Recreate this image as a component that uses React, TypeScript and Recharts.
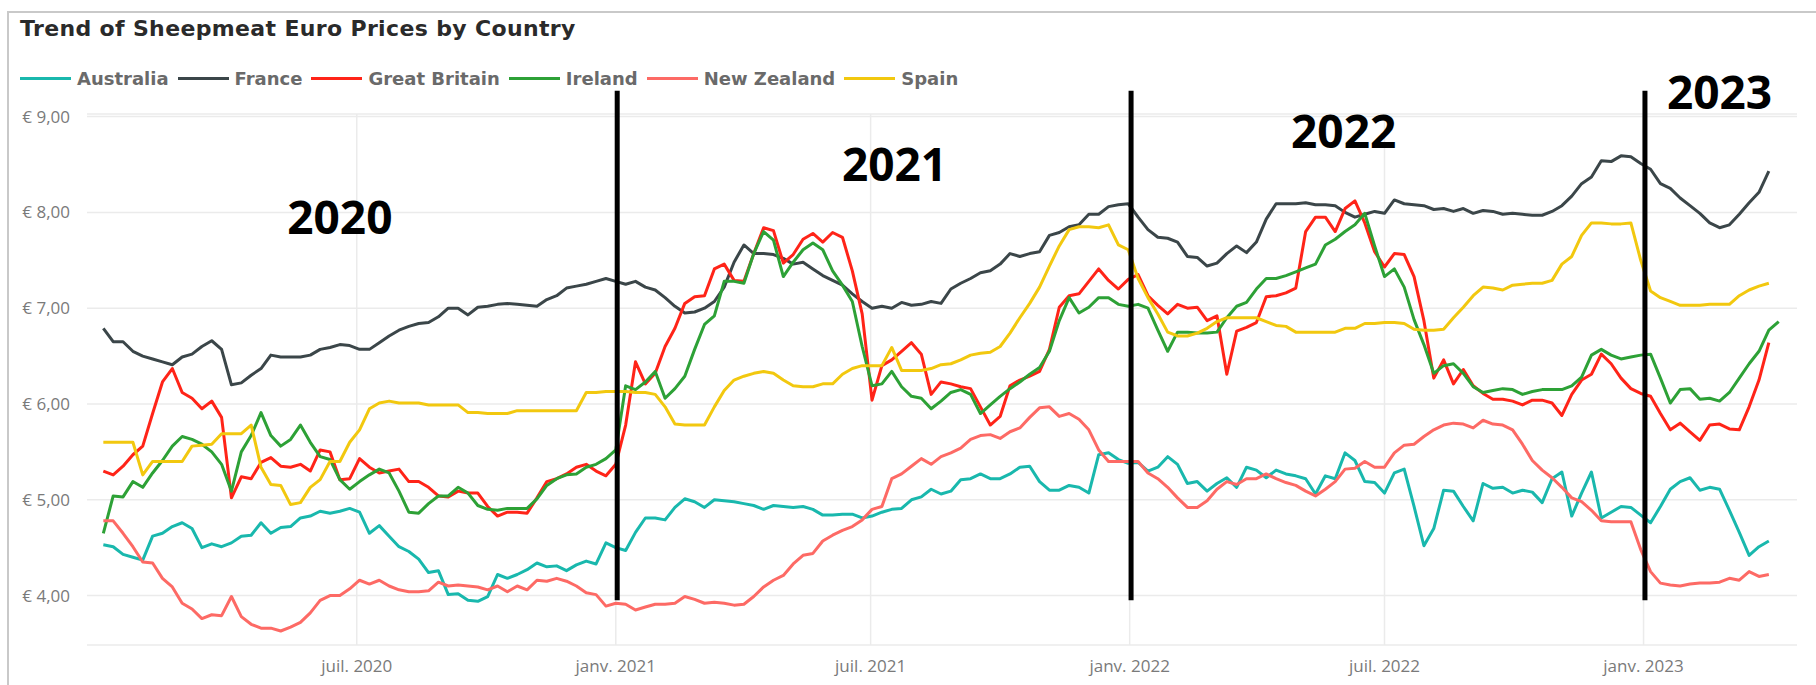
import { LineChart, Line, XAxis, YAxis, CartesianGrid, ReferenceLine, ReferenceDot } from "recharts";

const DAY = 24 * 3600 * 1000;
const firstWeek = Date.UTC(2020, 0, 3);

// weekly prices, € / kg (Jan 2020 -> Apr 2023)
const australia = [
  4.53, 4.51, 4.43, 4.40, 4.37, 4.62, 4.65, 4.72, 4.76, 4.70, 4.50, 4.54, 4.51, 4.55, 4.62, 4.63, 4.76, 4.65, 4.71, 4.72, 4.81, 4.83, 4.88, 4.86, 4.88, 4.91, 4.87, 4.65, 4.73, 4.62, 4.51, 4.46, 4.38, 4.24, 4.26,
  4.01, 4.02, 3.95, 3.94, 3.99, 4.22, 4.18, 4.22, 4.27, 4.34, 4.30, 4.31, 4.26, 4.32, 4.36, 4.33, 4.55, 4.50, 4.47, 4.66, 4.81, 4.81, 4.79, 4.92, 5.01, 4.98, 4.92, 5.00, 4.99, 4.98, 4.96, 4.94, 4.90, 4.94, 4.93,
  4.92, 4.93, 4.90, 4.84, 4.84, 4.85, 4.85, 4.81, 4.83, 4.87, 4.90, 4.91, 5.00, 5.03, 5.11, 5.06, 5.09, 5.21, 5.22, 5.27, 5.22, 5.22, 5.27, 5.34, 5.35, 5.19, 5.10, 5.10, 5.15, 5.13, 5.07, 5.47, 5.49, 5.42,
  5.38, 5.39, 5.30, 5.34, 5.45, 5.37, 5.17, 5.19, 5.09, 5.17, 5.23, 5.13, 5.34, 5.31, 5.23, 5.31, 5.27, 5.25, 5.22, 5.06, 5.25, 5.22, 5.49, 5.41, 5.19, 5.18, 5.07, 5.28, 5.32, 4.93, 4.52, 4.70, 5.10, 5.09,
  4.93, 4.78, 5.17, 5.12, 5.13, 5.07, 5.10, 5.08, 4.97, 5.22, 5.29, 4.83, 5.07, 5.29, 4.81, 4.87, 4.93, 4.92, 4.84, 4.76, 4.93, 5.11, 5.19, 5.23, 5.10, 5.13, 5.11, 4.89, 4.66, 4.42, 4.51, 4.57,
];

const france = [
  6.79, 6.65, 6.65, 6.55, 6.50, 6.47, 6.44, 6.41, 6.49, 6.52, 6.60, 6.66, 6.57, 6.20, 6.22, 6.30, 6.37, 6.51, 6.49, 6.49, 6.49, 6.51, 6.57, 6.59, 6.62, 6.61, 6.57, 6.57, 6.64, 6.71, 6.77, 6.81, 6.84, 6.85, 6.91,
  7.00, 7.00, 6.93, 7.01, 7.02, 7.04, 7.05, 7.04, 7.03, 7.02, 7.09, 7.13, 7.21, 7.23, 7.25, 7.28, 7.31, 7.28, 7.25, 7.28, 7.22, 7.19, 7.11, 7.02, 6.95, 6.96, 7.00, 7.07, 7.22, 7.48, 7.66, 7.57, 7.57, 7.56, 7.52,
  7.46, 7.48, 7.41, 7.34, 7.29, 7.24, 7.15, 7.07, 7.00, 7.02, 7.00, 7.06, 7.03, 7.04, 7.07, 7.05, 7.20, 7.26, 7.31, 7.37, 7.39, 7.46, 7.57, 7.54, 7.57, 7.59, 7.76, 7.79, 7.85, 7.87, 7.98, 7.98, 8.06, 8.08,
  8.09, 7.95, 7.82, 7.74, 7.73, 7.69, 7.54, 7.53, 7.44, 7.47, 7.57, 7.65, 7.58, 7.69, 7.93, 8.09, 8.09, 8.09, 8.10, 8.08, 8.08, 8.07, 8.00, 7.95, 7.98, 8.01, 7.99, 8.13, 8.09, 8.08, 8.07, 8.03, 8.04, 8.01,
  8.04, 7.99, 8.02, 8.01, 7.98, 7.99, 7.98, 7.97, 7.97, 8.01, 8.07, 8.17, 8.30, 8.37, 8.54, 8.53, 8.59, 8.58, 8.51, 8.45, 8.30, 8.25, 8.15, 8.07, 7.99, 7.89, 7.84, 7.87, 7.98, 8.10, 8.21, 8.43,
];

const greatBritain = [
  5.30, 5.26, 5.35, 5.47, 5.56, 5.90, 6.23, 6.37, 6.12, 6.06, 5.95, 6.03, 5.86, 5.02, 5.24, 5.22, 5.39, 5.44, 5.35, 5.34, 5.37, 5.30, 5.52, 5.50, 5.21, 5.22, 5.43, 5.34, 5.28, 5.30, 5.32, 5.19, 5.19, 5.13, 5.04,
  5.03, 5.09, 5.07, 5.07, 4.93, 4.83, 4.87, 4.87, 4.86, 5.02, 5.19, 5.22, 5.27, 5.34, 5.37, 5.30, 5.25, 5.37, 5.78, 6.44, 6.21, 6.32, 6.60, 6.79, 7.05, 7.12, 7.13, 7.41, 7.46, 7.29, 7.28, 7.57, 7.84, 7.81, 7.47,
  7.56, 7.72, 7.78, 7.69, 7.79, 7.74, 7.39, 6.94, 6.04, 6.40, 6.46, 6.55, 6.64, 6.52, 6.10, 6.23, 6.21, 6.18, 6.16, 5.97, 5.78, 5.87, 6.19, 6.25, 6.29, 6.34, 6.57, 7.01, 7.13, 7.15, 7.28, 7.41, 7.29, 7.20,
  7.30, 7.35, 7.13, 7.03, 6.94, 7.04, 7.00, 7.01, 6.87, 6.92, 6.31, 6.76, 6.80, 6.85, 7.12, 7.13, 7.16, 7.21, 7.80, 7.95, 7.95, 7.80, 8.04, 8.12, 7.89, 7.59, 7.43, 7.57, 7.56, 7.33, 6.87, 6.27, 6.46, 6.21,
  6.36, 6.19, 6.11, 6.05, 6.05, 6.03, 5.99, 6.04, 6.04, 6.01, 5.88, 6.10, 6.25, 6.31, 6.52, 6.42, 6.27, 6.16, 6.11, 6.08, 5.90, 5.73, 5.80, 5.71, 5.62, 5.78, 5.79, 5.74, 5.73, 5.97, 6.25, 6.64,
];

const ireland = [
  4.65, 5.04, 5.03, 5.19, 5.13, 5.28, 5.41, 5.56, 5.66, 5.63, 5.58, 5.50, 5.37, 5.09, 5.50, 5.67, 5.91, 5.67, 5.56, 5.63, 5.78, 5.60, 5.45, 5.42, 5.21, 5.11, 5.19, 5.26, 5.32, 5.28, 5.09, 4.87, 4.86, 4.96, 5.04,
  5.04, 5.13, 5.07, 4.94, 4.90, 4.89, 4.91, 4.91, 4.91, 5.01, 5.15, 5.22, 5.26, 5.27, 5.34, 5.37, 5.43, 5.52, 6.19, 6.15, 6.23, 6.34, 6.06, 6.16, 6.29, 6.57, 6.83, 6.92, 7.28, 7.28, 7.26, 7.57, 7.80, 7.71, 7.33,
  7.48, 7.61, 7.68, 7.61, 7.39, 7.24, 7.07, 6.60, 6.19, 6.21, 6.34, 6.18, 6.08, 6.06, 5.95, 6.03, 6.12, 6.15, 6.10, 5.90, 5.99, 6.08, 6.16, 6.23, 6.31, 6.38, 6.55, 6.87, 7.11, 6.95, 7.01, 7.11, 7.11, 7.04,
  7.02, 7.04, 7.00, 6.77, 6.55, 6.75, 6.75, 6.74, 6.74, 6.75, 6.90, 7.02, 7.06, 7.20, 7.31, 7.31, 7.34, 7.38, 7.42, 7.46, 7.66, 7.72, 7.80, 7.87, 7.99, 7.65, 7.33, 7.41, 7.22, 6.88, 6.62, 6.32, 6.40, 6.42,
  6.32, 6.18, 6.12, 6.14, 6.16, 6.15, 6.10, 6.13, 6.15, 6.15, 6.15, 6.19, 6.28, 6.51, 6.57, 6.51, 6.47, 6.49, 6.51, 6.52, 6.27, 6.01, 6.15, 6.16, 6.05, 6.06, 6.03, 6.12, 6.27, 6.42, 6.55, 6.77, 6.86,
];

const newZealand = [
  4.78, 4.78, 4.65, 4.51, 4.35, 4.34, 4.18, 4.09, 3.92, 3.86, 3.76, 3.80, 3.79, 3.99, 3.78, 3.70, 3.66, 3.66, 3.63, 3.67, 3.72, 3.82, 3.95, 4.00, 4.00, 4.07, 4.16, 4.12, 4.16, 4.10, 4.06, 4.04, 4.04, 4.05, 4.14,
  4.10, 4.11, 4.10, 4.09, 4.06, 4.10, 4.04, 4.10, 4.06, 4.16, 4.15, 4.18, 4.15, 4.10, 4.03, 4.01, 3.89, 3.92, 3.91, 3.85, 3.88, 3.91, 3.91, 3.92, 3.99, 3.96, 3.92, 3.93, 3.92, 3.90, 3.91, 3.99, 4.09, 4.16, 4.21,
  4.33, 4.42, 4.44, 4.57, 4.63, 4.68, 4.72, 4.79, 4.90, 4.93, 5.22, 5.27, 5.35, 5.43, 5.37, 5.45, 5.49, 5.54, 5.63, 5.67, 5.68, 5.64, 5.71, 5.75, 5.86, 5.96, 5.97, 5.87, 5.90, 5.84, 5.73, 5.52, 5.40, 5.40,
  5.40, 5.40, 5.28, 5.22, 5.13, 5.02, 4.92, 4.92, 4.99, 5.11, 5.19, 5.16, 5.22, 5.22, 5.27, 5.22, 5.18, 5.15, 5.09, 5.04, 5.11, 5.19, 5.32, 5.33, 5.40, 5.34, 5.34, 5.49, 5.57, 5.58, 5.66, 5.73, 5.78, 5.80,
  5.79, 5.75, 5.83, 5.79, 5.78, 5.73, 5.58, 5.41, 5.31, 5.23, 5.13, 5.02, 4.98, 4.89, 4.78, 4.77, 4.77, 4.77, 4.48, 4.25, 4.13, 4.11, 4.10, 4.12, 4.13, 4.13, 4.14, 4.18, 4.16, 4.25, 4.20, 4.22,
];

const spain = [
  5.60, 5.60, 5.60, 5.60, 5.26, 5.40, 5.40, 5.40, 5.40, 5.56, 5.57, 5.58, 5.69, 5.69, 5.69, 5.78, 5.34, 5.16, 5.15, 4.95, 4.97, 5.13, 5.21, 5.40, 5.40, 5.60, 5.73, 5.95, 6.01, 6.03, 6.01, 6.01, 6.01, 5.99, 5.99,
  5.99, 5.99, 5.91, 5.91, 5.90, 5.90, 5.90, 5.93, 5.93, 5.93, 5.93, 5.93, 5.93, 5.93, 6.12, 6.12, 6.13, 6.13, 6.13, 6.12, 6.12, 6.10, 5.97, 5.79, 5.78, 5.78, 5.78, 5.97, 6.14, 6.25, 6.29, 6.32, 6.34, 6.32, 6.25,
  6.19, 6.18, 6.18, 6.21, 6.21, 6.31, 6.37, 6.40, 6.40, 6.40, 6.59, 6.35, 6.35, 6.35, 6.37, 6.41, 6.42, 6.46, 6.51, 6.53, 6.54, 6.60, 6.74, 6.90, 7.05, 7.22, 7.44, 7.65, 7.82, 7.85, 7.85, 7.84, 7.87, 7.66,
  7.61, 7.31, 7.11, 6.94, 6.75, 6.71, 6.71, 6.74, 6.79, 6.86, 6.90, 6.90, 6.90, 6.90, 6.86, 6.82, 6.81, 6.75, 6.75, 6.75, 6.75, 6.75, 6.79, 6.79, 6.84, 6.84, 6.85, 6.85, 6.84, 6.78, 6.77, 6.77, 6.78, 6.90,
  7.01, 7.13, 7.22, 7.21, 7.19, 7.24, 7.25, 7.26, 7.26, 7.29, 7.46, 7.54, 7.76, 7.89, 7.89, 7.88, 7.88, 7.89, 7.50, 7.18, 7.11, 7.07, 7.03, 7.03, 7.03, 7.04, 7.04, 7.04, 7.13, 7.19, 7.23, 7.26,
];

const series = [
  { name: "Australia", values: australia, color: "#19B8AD" },
  { name: "France", values: france, color: "#3B4649" },
  { name: "Great Britain", values: greatBritain, color: "#FF2418" },
  { name: "Ireland", values: ireland, color: "#2DA136" },
  { name: "New Zealand", values: newZealand, color: "#FD6A65" },
  { name: "Spain", values: spain, color: "#F2C80F" },
];

const weeks = ireland.map((_, i) => firstWeek + i * 7 * DAY);

const tickDates = [Date.UTC(2020, 6, 1), Date.UTC(2021, 0, 1), Date.UTC(2021, 6, 1), Date.UTC(2022, 0, 1), Date.UTC(2022, 6, 1), Date.UTC(2023, 0, 1)];
const tickLabels = ["juil. 2020", "janv. 2021", "juil. 2021", "janv. 2022", "juil. 2022", "janv. 2023"];
const priceTicks = [4, 5, 6, 7, 8, 9];

// black year separators and the big year captions drawn over the plot
const yearStarts = [Date.UTC(2021, 0, 2), Date.UTC(2022, 0, 2), Date.UTC(2023, 0, 2)];
const yearCaptions = [
  { text: "2020", date: Date.UTC(2020, 5, 19), price: 7.94 },
  { text: "2021", date: Date.UTC(2021, 6, 18), price: 8.5 },
  { text: "2022", date: Date.UTC(2022, 5, 2), price: 8.84 },
  { text: "2023", date: Date.UTC(2023, 1, 24), price: 9.25 },
];

const data = weeks.map((t, i) => {
  const row: any = { t };
  series.forEach((s) => {
    row[s.name] = s.values[i] ?? null;
  });
  return row;
});

const euro = (v: number) => `€ ${v.toFixed(2).replace(".", ",")}`;
const tickLabel = (v: number) => tickLabels[tickDates.indexOf(v)] ?? "";

const axisTick = { fill: "#7a7a7a", fontSize: 17, fontFamily: "Open Sans" };

export default function App() {
  return (
    <div style={{ position: "absolute", left: 0, top: 0, width: 1816, height: 685, overflow: "hidden", background: "#fff" }}>
      <div
        style={{
          position: "absolute",
          left: 7,
          top: 11,
          right: -4,
          bottom: -10,
          borderTop: "2px solid #c9c9c9",
          borderLeft: "2px solid #c9c9c9",
        }}
      />
      <div
        style={{
          position: "absolute",
          left: 20,
          top: 17,
          fontFamily: "DejaVu Sans",
          fontWeight: 700,
          fontSize: 22,
          lineHeight: "24px",
          letterSpacing: 0.35,
          color: "#2a2a2a",
          whiteSpace: "nowrap",
        }}>
        Trend of Sheepmeat Euro Prices by Country
      </div>
      <div style={{ position: "absolute", left: 20, top: 67, display: "flex", alignItems: "center", height: 22 }}>
        {series.map((s) => (
          <div key={s.name} style={{ display: "flex", alignItems: "center", marginRight: 9 }}>
            <div style={{ width: 51, height: 3, background: s.color, marginRight: 6 }} />
            <span style={{ fontFamily: "DejaVu Sans", fontWeight: 700, fontSize: 18, color: "#6a6a6a", whiteSpace: "nowrap" }}>
              {s.name}
            </span>
          </div>
        ))}
      </div>
      <div style={{ position: "absolute", left: 0, top: 0 }}>
        <LineChart width={1816} height={685} data={data} margin={{ top: 114, right: 19, bottom: 0, left: 0 }}>
          <CartesianGrid stroke="#ebebeb" strokeWidth={1.5} verticalValues={tickDates} />
          <XAxis
            dataKey="t"
            type="number"
            domain={[firstWeek - 11.6 * DAY, firstWeek + 1203 * DAY]}
            ticks={tickDates}
            tickFormatter={tickLabel}
            allowDataOverflow
            axisLine={false}
            tickLine={false}
            tickSize={0}
            tickMargin={15}
            height={40}
            tick={axisTick}
          />
          <YAxis
            type="number"
            domain={[3.484, 9.027]}
            ticks={priceTicks}
            tickFormatter={euro}
            allowDataOverflow
            axisLine={false}
            tickLine={false}
            tickSize={0}
            tickMargin={17}
            width={87}
            tick={axisTick}
          />
          {series.map((s) => (
            <Line
              key={s.name}
              type="linear"
              dataKey={s.name}
              stroke={s.color}
              strokeWidth={3}
              strokeLinejoin="round"
              dot={false}
              activeDot={false}
              isAnimationActive={false}
            />
          ))}
          {yearStarts.map((d) => (
            <ReferenceLine
              key={d}
              segment={[
                { x: d, y: 3.95 },
                { x: d, y: 9.27 },
              ]}
              stroke="#000"
              strokeWidth={5}
              ifOverflow="visible"
            />
          ))}
          {yearCaptions.map((c) => (
            <ReferenceDot
              key={c.text}
              x={c.date}
              y={c.price}
              r={0}
              fill="none"
              stroke="none"
              ifOverflow="visible"
              label={{ value: c.text, position: "center", fill: "#000", fontSize: 46, fontWeight: 700, fontFamily: "Open Sans" }}
            />
          ))}
        </LineChart>
      </div>
    </div>
  );
}
